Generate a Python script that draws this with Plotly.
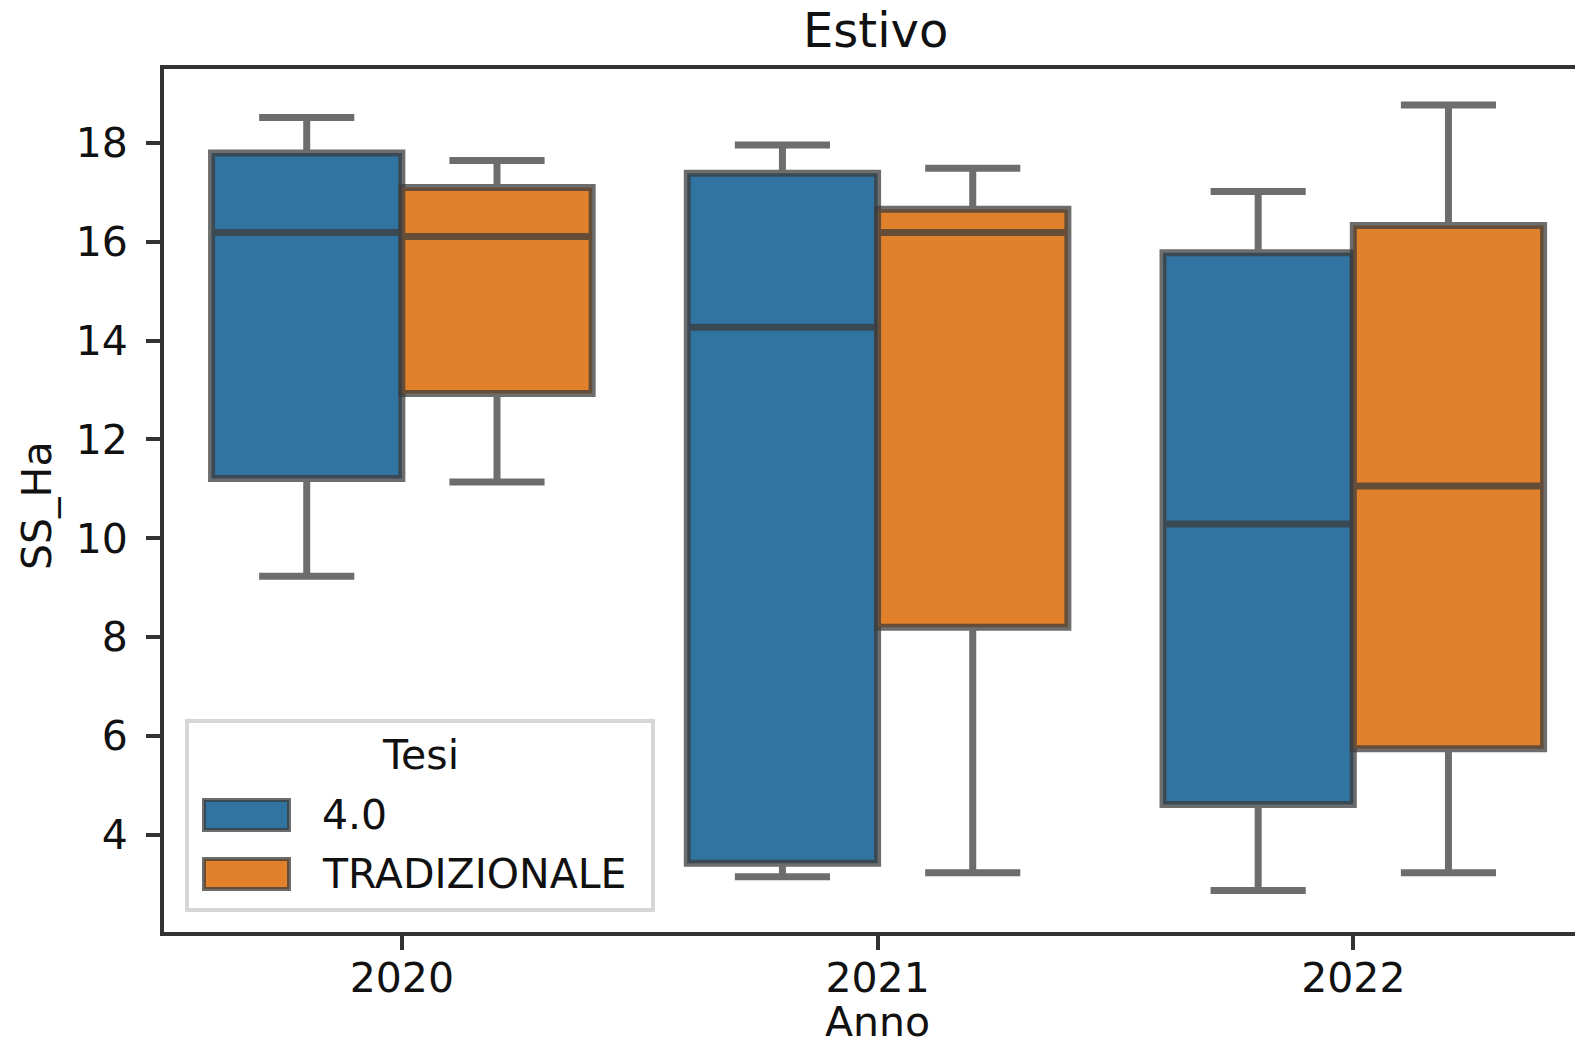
import plotly.graph_objects as go

# Summary statistics of SS_Ha per year and treatment (summer season)
years = ["2020", "2021", "2022"]

lower_40 = [9.23, 3.15, 2.87]
q1_40 = [11.21, 3.42, 4.61]
median_40 = [16.19, 14.27, 10.29]
q3_40 = [17.80, 17.39, 15.78]
upper_40 = [18.52, 17.96, 17.02]

lower_trad = [11.14, 3.23, 3.23]
q1_trad = [12.93, 8.20, 5.74]
median_trad = [16.11, 16.19, 11.06]
q3_trad = [17.10, 16.66, 16.33]
upper_trad = [17.65, 17.49, 18.77]

series_names = ["4.0", "TRADIZIONALE"]
y_ticks = [4, 6, 8, 10, 12, 14, 16, 18]

BLUE = "#3274a1"
ORANGE = "#e1812c"
EDGE = "rgba(60,60,60,0.75)"
SPINE = "#333333"
FONT = "DejaVu Sans"

W, H = 1575, 1051
L, R, T, B = 164, 0, 69, 119


def px_x(p):
    return (p - L) / (W - L - R)


def px_y(p):
    return (H - B - p) / (H - B - T)


fig = go.Figure()
for name, lo, q1, med, q3, hi, col in [
    (series_names[0], lower_40, q1_40, median_40, q3_40, upper_40, BLUE),
    (series_names[1], lower_trad, q1_trad, median_trad, q3_trad, upper_trad, ORANGE),
]:
    fig.add_trace(go.Box(
        name=name, x=years, q1=q1, median=med, q3=q3,
        lowerfence=lo, upperfence=hi,
        fillcolor=col, line=dict(color=EDGE, width=7),
        whiskerwidth=0.5, boxpoints=False, showlegend=False,
    ))

fig.update_layout(
    width=W, height=H,
    margin=dict(l=L, r=R, t=T, b=B, autoexpand=False),
    paper_bgcolor="white", plot_bgcolor="white",
    boxmode="group", boxgap=0.2, boxgroupgap=0,
    font=dict(family=FONT, color="#111111", size=41),
)

fig.update_xaxes(
    type="category", range=[-0.5, 2.466],
    showline=True, linecolor=SPINE, linewidth=4, mirror=True,
    ticks="outside", ticklen=14, tickwidth=4, tickcolor=SPINE,
    showgrid=False, zeroline=False, ticklabelstandoff=-7,
    tickfont=dict(size=41, family=FONT, color="#111111"),
)
fig.update_yaxes(
    range=[2.03, 19.50], tickvals=y_ticks,
    showline=True, linecolor=SPINE, linewidth=4, mirror=False,
    ticks="outside", ticklen=14, tickwidth=4, tickcolor=SPINE,
    showgrid=False, zeroline=False, ticklabelstandoff=10,
    tickfont=dict(size=41, family=FONT, color="#111111"),
)

ann = []
# title and axis titles
ann.append(dict(text="Estivo", x=px_x(875), y=px_y(30), xref="paper", yref="paper",
                showarrow=False, font=dict(size=48, family=FONT, color="#111111"),
                xanchor="center", yanchor="middle"))
ann.append(dict(text="SS_Ha", x=px_x(37), y=px_y(506), xref="paper", yref="paper",
                showarrow=False, textangle=-90, font=dict(size=41, family=FONT, color="#111111"),
                xanchor="center", yanchor="middle"))
ann.append(dict(text="Anno", x=px_x(877), y=px_y(1022), xref="paper", yref="paper",
                showarrow=False, font=dict(size=41, family=FONT, color="#111111"),
                xanchor="center", yanchor="middle"))

# legend frame, title, swatches and labels
shapes = [dict(type="rect", xref="paper", yref="paper",
               x0=px_x(187), x1=px_x(653), y0=px_y(910), y1=px_y(721),
               line=dict(color="#d6d6d6", width=4), fillcolor="rgba(255,255,255,0.8)", layer="above")]
ann.append(dict(text="Tesi", x=px_x(420), y=px_y(755), xref="paper", yref="paper",
                showarrow=False, font=dict(size=41, family=FONT, color="#111111"),
                xanchor="center", yanchor="middle"))
for i, (name, col) in enumerate(zip(series_names, [BLUE, ORANGE])):
    yc = 815 + i * 59
    shapes.append(dict(type="rect", xref="paper", yref="paper",
                       x0=px_x(204), x1=px_x(289), y0=px_y(yc + 15), y1=px_y(yc - 15),
                       line=dict(color=EDGE, width=4), fillcolor=col, layer="above"))
    ann.append(dict(text=name, x=px_x(320), y=px_y(yc), xref="paper", yref="paper",
                    showarrow=False, font=dict(size=41, family=FONT, color="#111111"),
                    xanchor="left", yanchor="middle"))

fig.update_layout(annotations=ann, shapes=shapes)
fig.write_html("out.html")
